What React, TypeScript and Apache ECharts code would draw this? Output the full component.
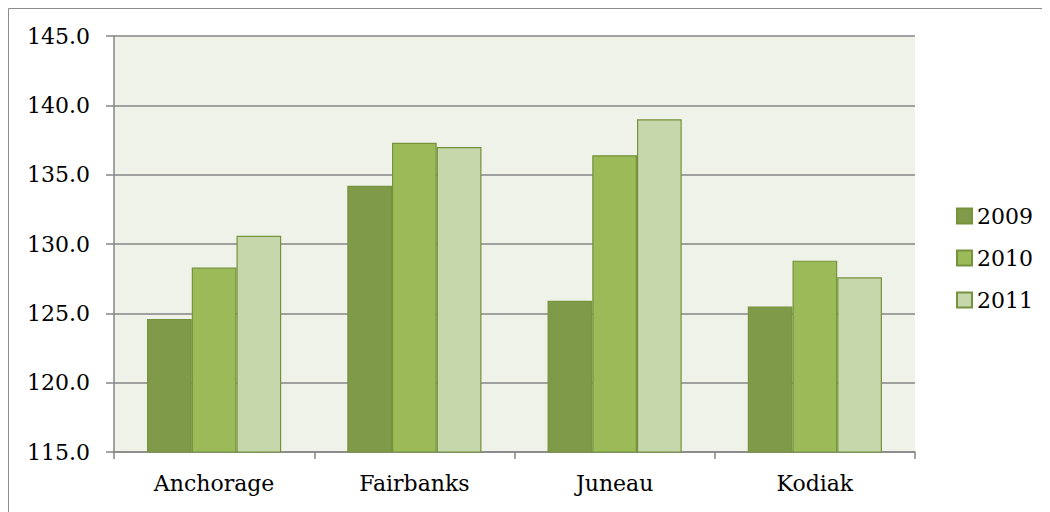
import React, { useEffect, useRef } from "react";
import * as echarts from "echarts";

const categories = ["Anchorage", "Fairbanks", "Juneau", "Kodiak"];
const seriesNames = ["2009", "2010", "2011"];
const values2009 = [124.6, 134.2, 125.9, 125.5];
const values2010 = [128.3, 137.3, 136.4, 128.8];
const values2011 = [130.6, 137.0, 139.0, 127.6];
const seriesColors = ["#7f9a48", "#9bbb59", "#c6d7ac"];

const FONT = "'DejaVu Serif', serif";

export default function App() {
  const ref = useRef<HTMLDivElement>(null);
  useEffect(() => {
    if (!ref.current) return;
    const chart = echarts.init(ref.current, undefined, { renderer: "svg" });
    const data = [values2009, values2010, values2011];
    chart.setOption({
      animation: false,
      backgroundColor: "#ffffff",
      textStyle: { fontFamily: FONT },
      graphic: [
        {
          type: "rect",
          shape: { x: 0.5, y: 0.5, width: 3000, height: 3000 },
          style: { fill: "none", stroke: "#8c8c8c", lineWidth: 1 },
          silent: true,
        },
      ],
      grid: {
        left: 106,
        top: 28,
        width: 801,
        height: 416,
        show: true,
        backgroundColor: "#eff2e8",
        borderWidth: 0,
      },
      legend: {
        orient: "vertical",
        left: 943,
        top: 192,
        itemWidth: 15,
        itemHeight: 15,
        itemGap: 20,
        icon: "rect",
        data: seriesNames,
        textStyle: { fontFamily: FONT, fontSize: 22, color: "#000", lineHeight: 21 },
      },
      xAxis: {
        type: "category",
        data: categories,
        axisLine: { show: true, lineStyle: { color: "#868686", width: 1.5 } },
        axisTick: { show: true, length: 7, lineStyle: { color: "#868686", width: 1.5 } },
        axisLabel: { fontFamily: FONT, fontSize: 22, color: "#000", margin: 20 },
        splitLine: { show: false },
      },
      yAxis: {
        type: "value",
        min: 115,
        max: 145,
        interval: 5,
        axisLine: { show: true, lineStyle: { color: "#868686", width: 1.5 } },
        axisTick: { show: true, length: 8, lineStyle: { color: "#868686", width: 1.5 } },
        axisLabel: {
          fontFamily: FONT,
          fontSize: 22,
          color: "#000",
          margin: 24,
          formatter: (v: number) => v.toFixed(1),
        },
        splitLine: { show: true, lineStyle: { color: "#868686", width: 1.5 } },
      },
      series: seriesNames.map((name, i) => ({
        name,
        type: "bar",
        data: data[i],
        barGap: "0%",
        barCategoryGap: "33%",
        itemStyle: {
          color: seriesColors[i],
          borderColor: "#76923c",
          borderWidth: 1.2,
        },
      })),
    });
    return () => chart.dispose();
  }, []);
  return <div ref={ref} style={{ width: 1042, height: 504 }} />;
}
